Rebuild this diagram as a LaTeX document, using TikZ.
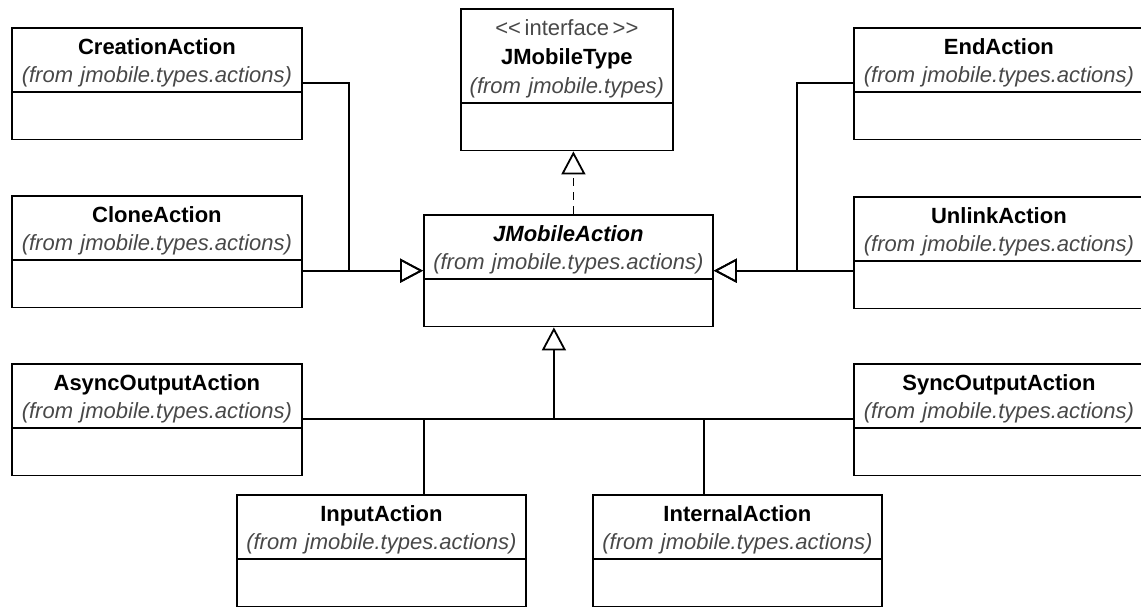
\documentclass[tikz,border=0pt]{standalone}
\usepackage{fontspec}
\setsansfont{Liberation Sans}
\usepackage{tikz}
\usetikzlibrary{arrows.meta,shapes,positioning}

\definecolor{pkggray}{HTML}{484848}

% struts that push the text a bit lower in its compartment
\newcommand{\topstrut}{\rule{0pt}{11.3pt}}
\newcommand{\botstrut}{\rule[-2.7pt]{0pt}{2.7pt}}

% class name + package line
\newcommand{\clsname}[2]{\textbf{#1}\topstrut\\ \textcolor{pkggray}{\textit{#2}}\botstrut}

\begin{document}
\begin{tikzpicture}[
        x=0.5pt, y=-0.5pt,
        every path/.style={line width=0.9pt},
        umlclass/.style={draw, rectangle split, rectangle split parts=2, anchor=north west,
            text width=145pt, inner xsep=0pt, inner ysep=1.5pt, align=center,
            font=\sffamily\fontsize{11}{14}\selectfont,
            rectangle split empty part height=20pt, rectangle split empty part depth=0pt},
        inherit/.style={-{Triangle[open, length=11.5pt, width=12pt]}},
        realize/.style={inherit, dash pattern=on 4pt off 3pt}
    ]

    \useasboundingbox (0,0) rectangle (1141,608);

    % Nodes
    \node[umlclass, text width=106pt, font=\sffamily\fontsize{11}{14.5}\selectfont] (type) at (460,8)
        {\textcolor{pkggray}{<{}<\,interface\,>{}>}\topstrut\\ \textbf{JMobileType}\strut\\
         \textcolor{pkggray}{\textit{(from jmobile.types)}}\botstrut};
    \node[umlclass, text width=144.5pt] (act) at (423,214)
        {\textbf{\textit{JMobileAction}}\topstrut\\ \textcolor{pkggray}{\textit{(from jmobile.types.actions)}}\botstrut};

    \node[umlclass] (crea) at (11,27) {\clsname{CreationAction}{(from jmobile.types.actions)}};
    \node[umlclass] (clone) at (11,195) {\clsname{CloneAction}{(from jmobile.types.actions)}};
    \node[umlclass] (async) at (11,363) {\clsname{AsyncOutputAction}{(from jmobile.types.actions)}};

    \node[umlclass] (endact) at (853,27) {\clsname{EndAction}{(from jmobile.types.actions)}};
    \node[umlclass] (unlink) at (853,196) {\clsname{UnlinkAction}{(from jmobile.types.actions)}};
    \node[umlclass] (sync) at (853,363) {\clsname{SyncOutputAction}{(from jmobile.types.actions)}};

    \node[umlclass, text width=144.5pt] (input) at (236,494) {\clsname{InputAction}{(from jmobile.types.actions)}};
    \node[umlclass, text width=144.5pt] (internal) at (592,494) {\clsname{InternalAction}{(from jmobile.types.actions)}};

    % arrow tips on JMobileAction
    \coordinate (tipw) at ([yshift=4pt]act.text split west);
    \coordinate (tipe) at ([yshift=4pt]act.text split east);
    \coordinate (tips) at ([xshift=-7.25pt]act.south);
    \coordinate (bus) at ([yshift=4.5pt]async.text split east);

    % Edges
    \draw[realize] ([xshift=2.5pt]act.north) -- ([xshift=2.5pt]act.north |- type.south);

    \draw[inherit] ([yshift=4.5pt]crea.text split east) -- ++(46,0) |- (tipw);
    \draw[inherit] (clone.east |- tipw) -- (tipw);

    \draw[inherit] ([yshift=4.5pt]endact.text split west) -- ++(-56,0) |- (tipe);
    \draw[inherit] (unlink.west |- tipe) -- (tipe);

    \draw (bus) -- (bus -| sync.west);
    \draw[inherit] (bus -| tips) -- (tips);
    \draw ([xshift=21.25pt]input.north) |- (bus);
    \draw ([xshift=-16.75pt]internal.north) |- (bus);

\end{tikzpicture}
\end{document}
